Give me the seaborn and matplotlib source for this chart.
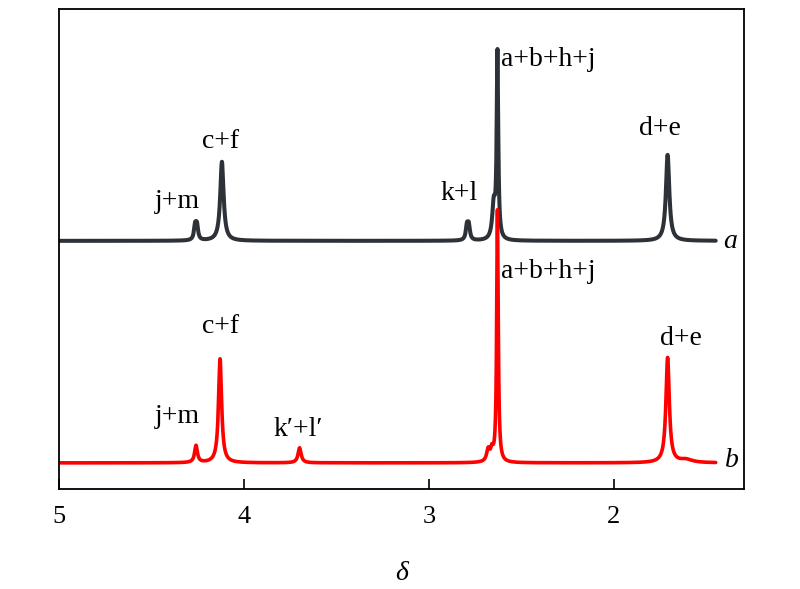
import numpy as np
import pandas as pd
import matplotlib
matplotlib.use("Agg")
import matplotlib.pyplot as plt
import seaborn as sns

# peak data (delta in ppm, height above baseline)
pos_a = [4.265, 4.255, 4.12, 2.795, 2.785, 2.65, 2.63, 1.71]
amp_a = [0.14, 0.14, 0.79, 0.14, 0.14, 0.34, 1.85, 0.86]
wid_a = [0.007, 0.007, 0.011, 0.007, 0.007, 0.010, 0.005, 0.011]

pos_b = [4.26, 4.13, 3.70, 2.68, 2.66, 2.63, 1.71, 1.61]
amp_b = [0.17, 1.04, 0.15, 0.12, 0.10, 2.52, 1.05, 0.03]
wid_b = [0.009, 0.010, 0.010, 0.010, 0.008, 0.005, 0.011, 0.040]

base_a = 2.48
base_b = 0.26
x_start, x_end = 5.0, 1.45

labels_a = ["j+m", "c+f", "k+l", "a+b+h+j", "d+e"]
labels_b = ["j+m", "c+f", "k\u2032+l\u2032", "a+b+h+j", "d+e"]


def spectrum(pos, amp, wid, base):
    x = np.linspace(x_end, x_start, 6000)
    y = np.full_like(x, base)
    for p, a, w in zip(pos, amp, wid):
        y += a / (1 + ((x - p) / w) ** 2)
    return pd.DataFrame({"delta": x, "y": y})


sns.set_theme(style="white")
plt.rcParams["font.family"] = ["Liberation Serif", "DejaVu Serif"]
plt.rcParams["text.color"] = "black"

fig = plt.figure(figsize=(8, 5.89), dpi=100)
ax = fig.add_axes([0.074, 0.170, 0.856, 0.815])

df_a = spectrum(pos_a, amp_a, wid_a, base_a)
df_b = spectrum(pos_b, amp_b, wid_b, base_b)
sns.lineplot(data=df_a, x="delta", y="y", ax=ax, color="#2c3237", lw=2.9,
             sort=False, estimator=None)
sns.lineplot(data=df_b, x="delta", y="y", ax=ax, color="#ff0000", lw=2.6,
             sort=False, estimator=None)

ax.set_xlim(5.0, 1.297)
ax.set_ylim(0, 4.8)
ax.set_xticks([5, 4, 3, 2])
ax.set_xticklabels(["5", "4", "3", "2"], fontsize=19, color="black")
ax.set_yticks([])
ax.tick_params(axis="x", direction="in", length=7, width=1.2, pad=12,
               colors="black", bottom=True)
for s in ax.spines.values():
    s.set_color("black")
    s.set_linewidth(1.3)
ax.set_xlabel("\u03b4", fontsize=20, style="italic", labelpad=24, color="black")
ax.set_ylabel("")

fs = 20
# labels for spectrum a
ax.text(4.36, 2.81, labels_a[0], fontsize=fs, ha="center", va="baseline")
ax.text(4.13, 3.41, labels_a[1], fontsize=fs, ha="center", va="baseline")
ax.text(2.84, 2.89, labels_a[2], fontsize=fs, ha="center", va="baseline")
ax.text(2.61, 4.23, labels_a[3], fontsize=fs, ha="left", va="baseline")
ax.text(1.75, 3.54, labels_a[4], fontsize=fs, ha="center", va="baseline")
ax.text(1.37, 2.41, "a", fontsize=fs, style="italic", ha="center", va="baseline")
# labels for spectrum b
ax.text(4.36, 0.66, labels_b[0], fontsize=fs, ha="center", va="baseline")
ax.text(4.13, 1.56, labels_b[1], fontsize=fs, ha="center", va="baseline")
ax.text(3.71, 0.53, labels_b[2], fontsize=fs, ha="center", va="baseline")
ax.text(2.61, 2.11, labels_b[3], fontsize=fs, ha="left", va="baseline")
ax.text(1.64, 1.44, labels_b[4], fontsize=fs, ha="center", va="baseline")
ax.text(1.36, 0.22, "b", fontsize=fs, style="italic", ha="center", va="baseline")

fig.savefig("out.png", dpi=100)
